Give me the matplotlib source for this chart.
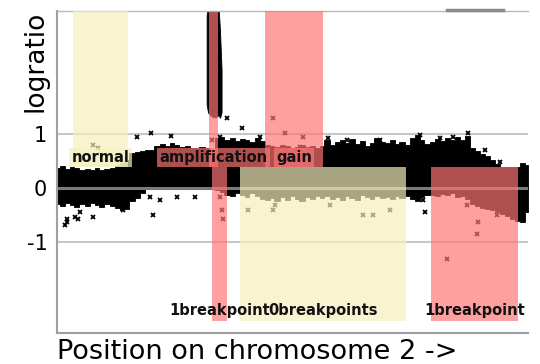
import matplotlib
matplotlib.use("Agg")
import matplotlib.pyplot as plt
from matplotlib.lines import Line2D

# ── Data (position in Mb, log ratio) ─────────────────────────────────────────
# envelope of the dense probe cloud
pos = [0.0, 2.6, 5.2, 7.7, 10.3, 12.9, 15.5, 18.1, 20.6, 23.2, 25.8, 28.4,
       31.0, 33.5, 36.1, 38.7, 41.3, 43.9, 46.4, 49.0, 51.6, 54.2, 56.8, 59.3,
       61.9, 64.5, 67.1, 69.7, 72.2, 74.8, 77.4, 80.0, 82.6, 85.1, 87.7, 90.3,
       92.9, 95.5, 98.0, 100.6, 103.2, 105.8, 108.4, 110.9, 113.5, 116.1,
       118.7, 121.3, 123.8, 126.4, 129.0, 131.6, 134.2, 136.7, 139.3, 141.9,
       144.5, 147.1, 149.6, 152.2, 154.8, 157.4, 160.0, 162.5, 165.1, 167.7,
       170.3, 172.9, 175.4, 178.0, 180.6, 183.2, 185.8, 188.3, 190.9, 193.5,
       196.1, 198.7, 201.2, 203.8, 206.4, 209.0, 211.6, 214.1, 216.7, 219.3,
       221.9, 224.5, 227.0, 229.6, 232.2, 234.8, 237.4, 239.9, 243.0]
upper = [0.37, 0.41, 0.35, 0.39, 0.37, 0.33, 0.35, 0.33, 0.37, 0.33, 0.35, 0.37,
         0.43, 0.46, 0.52, 0.65, 0.67, 0.69, 0.70, 0.70, 0.78, 0.81, 0.78, 0.83,
         0.80, 0.76, 0.78, 0.74, 0.74, 0.76, 0.74, 0.70, 0.93, 0.94, 0.89, 0.93,
         0.87, 0.91, 0.89, 0.85, 0.93, 0.87, 0.80, 0.78, 0.76, 0.80, 0.78, 0.74,
         0.76, 0.80, 0.76, 0.78, 0.74, 0.78, 0.89, 0.80, 0.85, 0.89, 0.83, 0.91,
         0.81, 0.87, 0.78, 0.83, 0.93, 0.85, 0.83, 0.89, 0.81, 0.85, 0.80, 0.93,
         0.98, 0.89, 0.81, 0.85, 0.91, 0.87, 0.93, 0.89, 0.94, 0.89, 0.96, 0.74,
         0.69, 0.63, 0.59, 0.52, 0.44, 0.39, 0.39, 0.39, 0.39, 0.46, 0.43]
lower = [-0.30, -0.33, -0.28, -0.31, -0.35, -0.30, -0.33, -0.28, -0.31, -0.35,
         -0.30, -0.33, -0.37, -0.41, -0.39, -0.24, -0.19, -0.09, -0.02, -0.01,
         -0.01, -0.02, -0.01, -0.02, -0.01, -0.02, -0.01, -0.02, -0.02, -0.02,
         -0.02, -0.02, -0.04, -0.07, -0.13, -0.15, -0.09, -0.13, -0.17, -0.09,
         -0.15, -0.20, -0.22, -0.19, -0.24, -0.17, -0.22, -0.15, -0.20, -0.24,
         -0.17, -0.20, -0.15, -0.19, -0.15, -0.20, -0.17, -0.22, -0.15, -0.19,
         -0.22, -0.13, -0.17, -0.20, -0.15, -0.19, -0.17, -0.20, -0.15, -0.19,
         -0.15, -0.20, -0.24, -0.17, -0.13, -0.13, -0.15, -0.11, -0.13, -0.09,
         -0.17, -0.15, -0.20, -0.30, -0.33, -0.37, -0.39, -0.41, -0.44, -0.48,
         -0.52, -0.57, -0.61, -0.63, -0.44]

# high-level amplification spike
spike_pos = [77.2, 77.9, 79.0, 80.5, 82.0, 83.3, 84.1, 84.9]
spike_top = [3.2, 3.4, 3.4, 3.4, 3.4, 3.4, 2.9, 2.2]
spike_bot = [1.55, 1.40, 1.35, 1.31, 1.31, 1.35, 1.30, 1.40]

# isolated probes outside the dense cloud
out_pos = [18.6, 21.2, 41.3, 48.5, 58.8, 95.5, 104.7, 87.7, 84.1, 80.0, 111.5,
           117.6, 126.9, 125.4, 139.8, 149.6, 166.7, 187.3, 197.6, 204.3,
           212.1, 220.8, 228.6,
           4.1, 5.2, 5.2, 9.3, 10.8, 11.9, 18.6, 34.1, 48.0, 53.1, 61.9, 71.2,
           49.5, 84.1, 85.1, 85.7, 98.6, 111.5, 112.5, 140.9, 157.9, 163.1,
           171.8, 188.9, 189.9, 211.6, 217.2, 216.7, 201.2, 227.0]
out_val = [0.80, 0.74, 0.94, 1.02, 0.96, 1.11, 0.94, 1.30, 0.94, 0.89, 1.30,
           1.02, 0.94, 0.76, 0.93, 0.89, 0.89, 0.98, 0.93, 0.94,
           1.02, 0.70, 0.48,
           -0.69, -0.57, -0.63, -0.54, -0.57, -0.44, -0.54, -0.41, -0.17, -0.22,
           -0.17, -0.17, -0.50, -0.17, -0.41, -0.57, -0.41, -0.41, -0.31, -0.31,
           -0.50, -0.50, -0.41, -0.22, -0.44, -0.31, -0.63, -0.85, -1.31, -0.50]

# annotated regions
reg_labels = ["normal", "amplification", "gain",
              "1breakpoint", "0breakpoints", "1breakpoint"]
reg_start = [8.3, 78.4, 107.3, 80.0, 94.4, 193.0]
reg_end = [36.6, 83.1, 137.3, 87.7, 180.1, 237.9]
reg_kind = ["normal", "breakpoint", "breakpoint", "breakpoint", "normal", "breakpoint"]
reg_row = ["top", "top", "top", "bottom", "bottom", "bottom"]

YELLOW = "#f6f0be"
RED = "#ff7575"
COLORS = {"normal": YELLOW, "breakpoint": RED}

Y_MIN, Y_MAX = -2.69, 3.28
ROW_SPLIT = 0.39      # boundary between the top and bottom annotation rows
ROW_BOTTOM = -2.46
LABEL_Y = {"top": 0.56, "bottom": -2.28}

# ── Figure ───────────────────────────────────────────────────────────────────
fig = plt.figure(figsize=(5.4, 3.64), dpi=100)
ax = fig.add_axes([57 / 540, 31 / 364, 471 / 540, 322 / 364])

for yv in (1, -1):
    ax.axhline(yv, color="#c8c8c8", lw=1.5, zorder=1)

ax.fill_between(pos, lower, upper, step="mid", color="black", lw=0.6, zorder=2)
ax.fill_between(spike_pos, spike_bot, spike_top, color="black", lw=0.6, zorder=2)
ax.plot(out_pos, out_val, ls="none", marker="x", ms=3.5, mew=1.3,
        color="black", zorder=2)
ax.axhline(0, color="#7a7a7a", lw=2.2, zorder=2.5)

for lab, x0, x1, kind, row in zip(reg_labels, reg_start, reg_end, reg_kind, reg_row):
    c = COLORS[kind]
    if row == "top":
        y0, y1 = ROW_SPLIT, Y_MAX + 0.2
    else:
        y0, y1 = ROW_BOTTOM, ROW_SPLIT
    ax.fill_between([x0, x1], [y0, y0], [y1, y1], color=c, alpha=0.69,
                    lw=0, zorder=3)
    bbox = None
    if row == "top":
        bbox = dict(boxstyle="square,pad=0.15", fc=c, ec="none", alpha=0.69)
    ax.text((x0 + x1) / 2, LABEL_Y[row], lab, ha="center", va="center",
            fontsize=10.5, fontweight="bold", color="#111111", zorder=4, bbox=bbox)

ax.set_xlim(0, 243)
ax.set_ylim(Y_MIN, Y_MAX)
ax.set_xticks([])
ax.set_yticks([-1, 0, 1])
ax.set_yticklabels(["-1", "0", "1"], fontsize=15)
ax.tick_params(axis="y", length=0, pad=7)

for side in ("left", "bottom"):
    ax.spines[side].set_color("#a0a0a0")
    ax.spines[side].set_linewidth(1.5)
ax.spines["top"].set_color("#b8b8b8")
ax.spines["top"].set_linewidth(1.0)
ax.spines["right"].set_visible(False)

ax.set_ylabel("logratio", fontsize=19)
ax.yaxis.set_label_coords(-0.017, 0.843)
ax.set_xlabel("Position on chromosome 2 ->", fontsize=19.5, loc="left")
ax.xaxis.set_label_coords(0.0, -0.02)

# small grey bar above the frame, top right
fig.add_artist(Line2D([447 / 540, 503 / 540], [1 - 9.5 / 364, 1 - 9.5 / 364],
                      color="#8c8c8c", lw=2.5))

fig.savefig("out.png", dpi=100)
